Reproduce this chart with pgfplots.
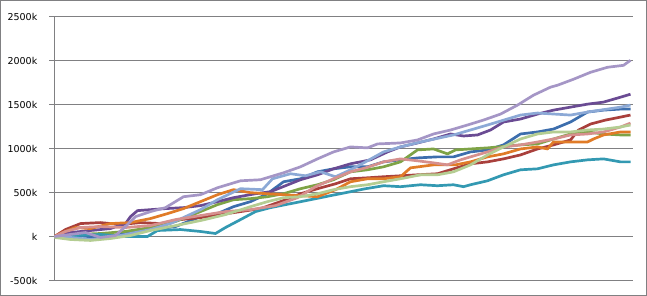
\documentclass[border=0pt]{standalone}
\usepackage{pgfplots}
\pgfplotsset{compat=1.18}
\usepackage{fontspec}
\setmainfont{DejaVu Sans}
\definecolor{lineC}{rgb}{0.5,0.5,0.51}
\definecolor{cBlue}{HTML}{3D6EAD}
\definecolor{cRed}{HTML}{A9403C}
\definecolor{cGreen}{HTML}{7EA346}
\definecolor{cPurple}{HTML}{6A4B93}
\definecolor{cTeal}{HTML}{3399B2}
\definecolor{cOrange}{HTML}{E07B27}
\definecolor{cLBlue}{HTML}{8CA9D6}
\definecolor{cPink}{HTML}{D6908E}
\definecolor{cLGreen}{HTML}{B4CD92}
\definecolor{cLav}{HTML}{A596C6}
\begin{document}
\begin{tikzpicture}
\path[use as bounding box] (0,0) rectangle (647pt,296pt);
\draw[lineC, line width=1pt] (0.5pt,0.5pt) rectangle (646.5pt,295.5pt);
\begin{axis}[
  at={(54.5pt,15.5pt)}, anchor=south west,
  width=578pt, height=264pt, scale only axis,
  xmin=54, xmax=632, ymin=-500, ymax=2500,
  axis x line=none,
  axis y line*=left,
  y axis line style={lineC, line width=1pt},
  xtick=\empty,
  ytick={-500,0,500,1000,1500,2000,2500},
  yticklabels={-500k,k,500k,1000k,1500k,2000k,2500k},
  yticklabel style={font=\fontsize{9.5}{10}\selectfont, anchor=east, inner sep=0pt, xshift=-12pt},
  ymajorgrids, major grid style={lineC, line width=1pt},
  tick align=outside, major tick length=5pt,
  major tick style={lineC, line width=1pt},
  every axis plot/.append style={line width=2.7pt, line join=round, no markers},
]
% blue
\addplot[cBlue] coordinates {(54,0)(75,11)(100,-11)(125,34)(150,79)(175,113)(200,226)(217,260)(233,339)(250,396)(267,486)(283,622)(300,656)(317,735)(333,769)(350,792)(367,792)(383,848)(400,871)(417,893)(437,905)(453,905)(470,961)(487,984)(503,1041)(520,1165)(537,1188)(553,1221)(570,1301)(587,1414)(603,1436)(620,1448)(630,1448)};
% red
\addplot[cRed] coordinates {(54,0)(65,79)(80,147)(100,158)(120,136)(140,158)(160,147)(180,192)(200,215)(220,249)(240,283)(260,317)(280,396)(300,486)(317,543)(335,599)(350,656)(367,667)(383,679)(400,690)(417,701)(437,713)(453,769)(470,826)(487,848)(503,882)(520,927)(537,995)(553,1041)(570,1097)(578,1210)(590,1278)(605,1323)(620,1357)(630,1380)};
% green
\addplot[cGreen] coordinates {(54,0)(75,23)(100,34)(125,57)(150,102)(175,170)(200,283)(217,362)(233,418)(250,430)(267,452)(283,486)(300,543)(317,588)(333,645)(350,735)(367,758)(383,792)(400,848)(417,984)(433,995)(447,939)(455,984)(470,995)(487,1007)(520,1041)(537,1052)(553,1108)(570,1165)(587,1188)(603,1165)(620,1154)(630,1154)};
% purple
\addplot[cPurple] coordinates {(54,0)(70,45)(90,68)(110,90)(125,147)(130,226)(137,294)(150,305)(165,317)(183,328)(200,351)(217,396)(233,441)(255,486)(270,509)(285,577)(300,645)(317,701)(333,769)(350,826)(370,871)(387,961)(400,1018)(417,1063)(433,1108)(450,1165)(463,1142)(477,1154)(490,1210)(503,1301)(520,1335)(537,1391)(553,1436)(570,1470)(587,1504)(603,1527)(620,1583)(630,1617)};
% teal
\addplot[cTeal] coordinates {(54,0)(75,11)(100,23)(125,0)(147,0)(157,68)(180,79)(200,57)(215,34)(225,102)(240,192)(255,283)(270,328)(290,373)(310,418)(330,464)(350,509)(365,543)(383,577)(400,566)(420,588)(437,577)(453,588)(463,566)(470,588)(487,633)(503,701)(520,758)(537,769)(553,814)(570,848)(587,871)(603,882)(620,848)(630,848)};
% orange
\addplot[cOrange] coordinates {(54,0)(62,45)(75,102)(90,90)(110,147)(130,158)(150,204)(167,260)(183,317)(200,396)(217,475)(233,532)(250,498)(267,486)(283,475)(300,464)(317,452)(335,532)(350,622)(367,656)(383,656)(400,679)(410,780)(433,814)(455,814)(470,848)(487,905)(503,939)(520,995)(537,1018)(547,995)(553,1074)(570,1074)(587,1074)(593,1108)(603,1154)(620,1188)(630,1188)};
% light blue
\addplot[cLBlue] coordinates {(54,0)(70,-11)(90,-34)(110,-11)(130,34)(150,79)(170,147)(185,226)(200,305)(217,418)(240,543)(262,532)(272,656)(290,713)(305,690)(320,735)(335,679)(350,758)(365,848)(383,961)(400,1018)(420,1074)(453,1154)(487,1267)(520,1380)(537,1403)(570,1380)(587,1414)(620,1470)(630,1493)};
% pink
\addplot[cPink] coordinates {(54,0)(65,57)(80,102)(100,113)(125,102)(150,124)(175,192)(200,238)(225,283)(250,305)(275,351)(297,441)(315,566)(333,656)(350,735)(365,780)(383,848)(400,882)(417,860)(433,837)(447,814)(460,871)(470,905)(487,961)(503,1018)(520,1041)(537,1074)(553,1108)(570,1154)(587,1165)(603,1188)(620,1244)(630,1289)};
% light green
\addplot[cLGreen] coordinates {(54,-11)(70,-34)(90,-45)(110,-23)(130,11)(150,68)(175,124)(200,181)(225,249)(250,339)(267,396)(283,441)(300,452)(317,486)(333,532)(350,566)(367,588)(383,622)(400,656)(420,701)(437,701)(453,735)(470,814)(487,927)(503,1018)(520,1108)(537,1165)(553,1188)(570,1188)(587,1210)(603,1221)(620,1244)(630,1267)};
% lavender
\addplot[cLav] coordinates {(54,0)(70,23)(85,45)(100,-11)(115,11)(125,113)(135,226)(150,283)(165,328)(183,452)(200,475)(217,554)(240,633)(260,645)(283,724)(300,792)(317,882)(333,961)(350,1018)(367,1007)(377,1052)(400,1063)(417,1097)(433,1165)(450,1210)(467,1267)(483,1323)(500,1391)(517,1493)(533,1606)(550,1697)(557,1719)(573,1787)(590,1866)(607,1923)(623,1945)(630,2002)};
\end{axis}
\end{tikzpicture}
\end{document}
